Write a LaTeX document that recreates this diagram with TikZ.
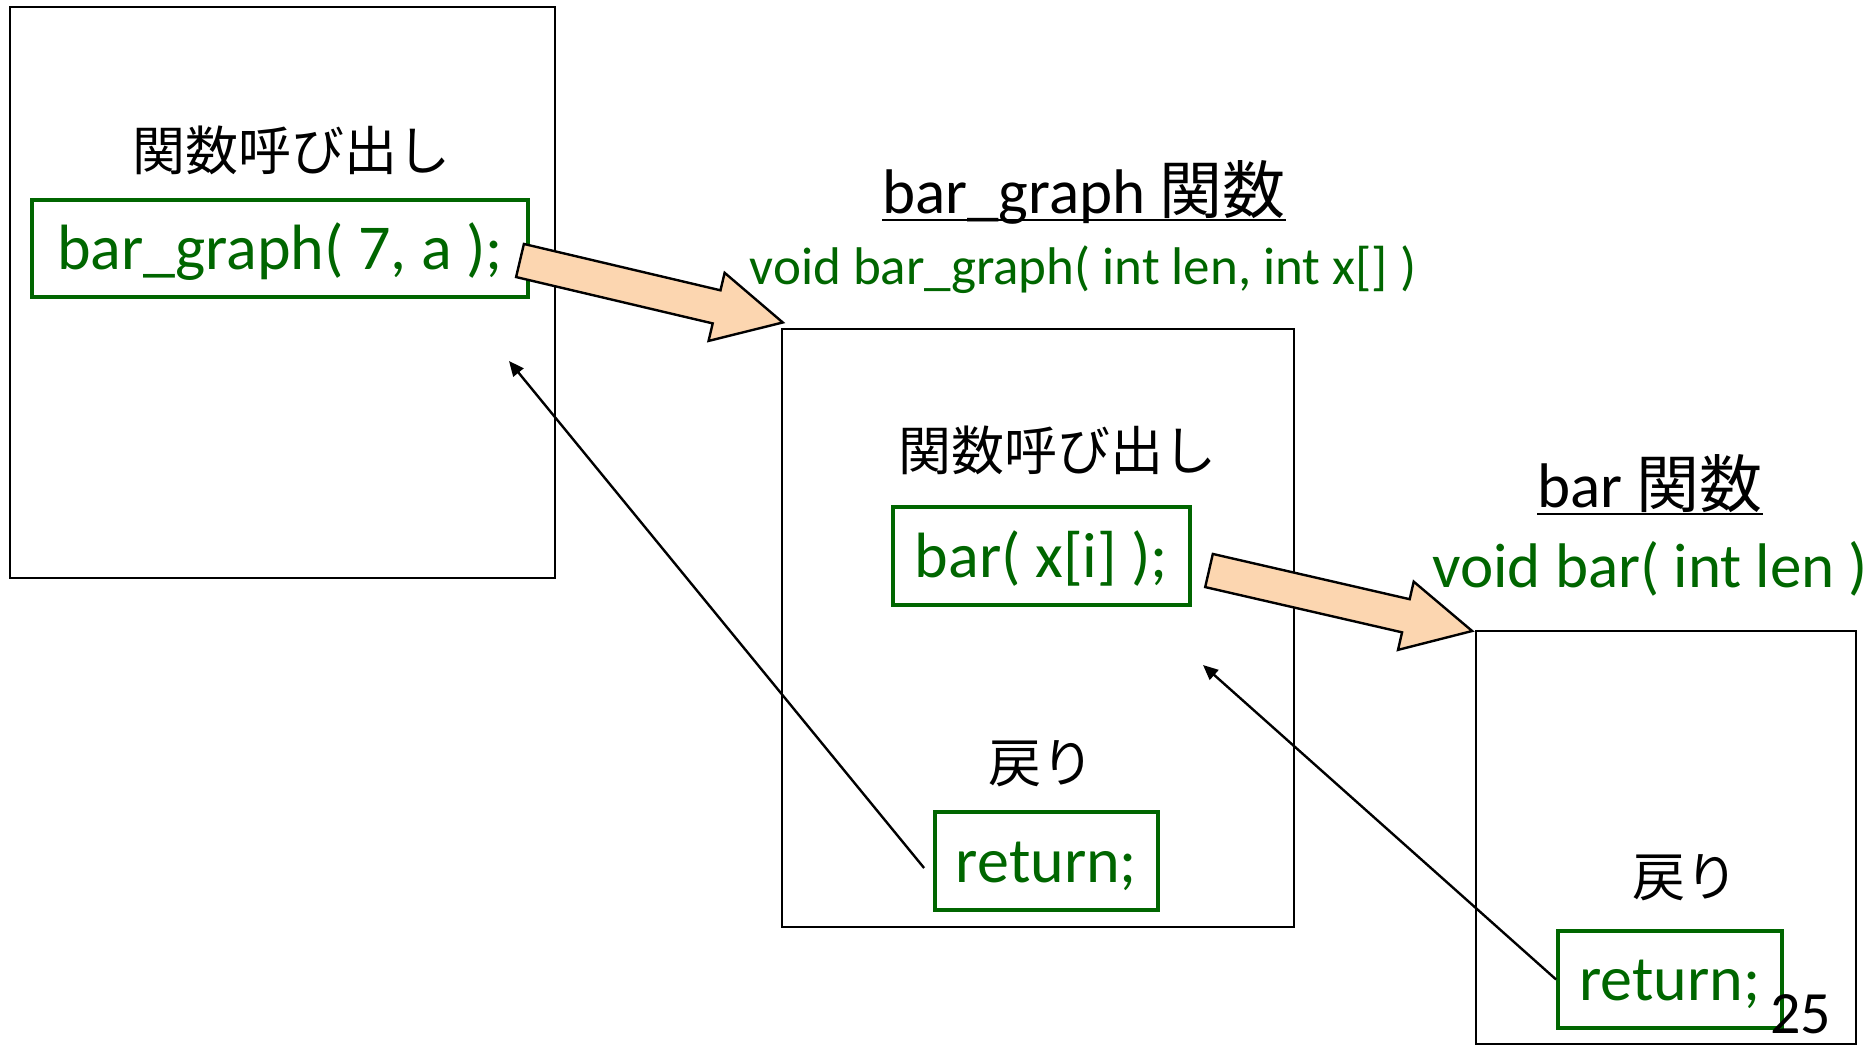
\documentclass[tikz,border=0pt]{standalone}
\usepackage{fontspec}
\setmainfont{Carlito}
\newfontfamily\jp{Noto Sans CJK JP}
\usetikzlibrary{arrows.meta}
\definecolor{codegreen}{RGB}{0,102,0}
\definecolor{arrowfill}{RGB}{252,214,176}
\begin{document}
\begin{tikzpicture}[x=1pt,y=-1pt,
  frame/.style={draw=black, line width=1.8pt, inner sep=0pt, anchor=north west},
  codebox/.style={draw=codegreen, line width=3.8pt, text=codegreen, inner sep=0pt,
    text height=50pt, text depth=8pt, font=\fontsize{64}{70}\selectfont},
  sig/.style={text=codegreen, inner sep=0pt},
  jplabel/.style={inner sep=0pt, font=\fontsize{53}{60}\selectfont\jp},
  titletext/.style={inner sep=0pt, anchor=base, font=\fontsize{63}{70}\selectfont},
  uline/.style={line width=2.6pt},
  blockarrow/.style={draw=black, line width=2.4pt, fill=arrowfill, line join=miter},
  retarrow/.style={line width=2.4pt, -{Triangle[length=15pt,width=13pt]}}
]
\useasboundingbox (0,0) rectangle (1865,1044);

% frames
\node[frame, minimum width=545pt, minimum height=571pt] (caller) at (9,6) {};
\node[frame, minimum width=512pt, minimum height=598pt] (bargraph) at (781,328) {};
\node[frame, minimum width=380pt, minimum height=413pt] (bar) at (1475,630) {};

% left frame
\node[jplabel] (call1) at (291,150) {関数呼び出し};
\node[codebox, minimum width=496pt, minimum height=97pt] (c1) at (280,248.5) {bar\_graph( 7, a );};

% middle titles
\node[titletext] (t1) at (1084,213) {bar\_graph {\jp 関数}};
\draw[uline] ([yshift=-7pt]t1.base west) -- ([yshift=-7pt]t1.base east);
\node[sig, anchor=base, font=\fontsize{53}{60}\selectfont] (s1) at (1083,284) {void bar\_graph( int len, int x[] )};

% middle frame contents
\node[jplabel] (call2) at (1057,450) {関数呼び出し};
\node[codebox, minimum width=297pt, minimum height=98pt] (c2) at (1041.5,556) {bar( x[i] );};
\node[jplabel] (ret1lbl) at (1041,764) {戻り};
\node[codebox, minimum width=223pt, minimum height=98pt] (ret1) at (1046.5,861) {return;};

% right titles
\node[titletext] (t2) at (1650,507) {bar {\jp 関数}};
\draw[uline] ([yshift=-7pt]t2.base west) -- ([yshift=-7pt]t2.base east);
\node[sig, anchor=base west, font=\fontsize{63}{70}\selectfont] (s2) at (1432,587) {void bar( int len )};

% right frame contents
\node[jplabel] (ret2lbl) at (1685,878) {戻り};
\node[codebox, minimum width=224pt, minimum height=97pt] (ret2) at (1670,979.5) {return;};

% page number
\node[inner sep=0pt, anchor=base west, font=\fontsize{60}{66}\selectfont] (pnum) at (1770,1033) {25};

% block arrows
\begin{scope}[shift={(520,260.5)}, rotate=-13.27]
  \draw[blockarrow] (0,-17) -- (202,-17) -- (202,-35) -- (270,0) -- (202,35) -- (202,17) -- (0,17) -- cycle;
\end{scope}
\begin{scope}[shift={(1209,570.5)}, rotate=-12.95]
  \draw[blockarrow] (0,-17) -- (202,-17) -- (202,-35) -- (270,0) -- (202,35) -- (202,17) -- (0,17) -- cycle;
\end{scope}

% return arrows
\coordinate (tip1) at (509,361);
\coordinate (tip2) at (1203,665);
\draw[retarrow] ([shift={(-9,7)}]ret1.west) -- (tip1);
\draw[retarrow] (ret2.west) -- (tip2);
\end{tikzpicture}
\end{document}
